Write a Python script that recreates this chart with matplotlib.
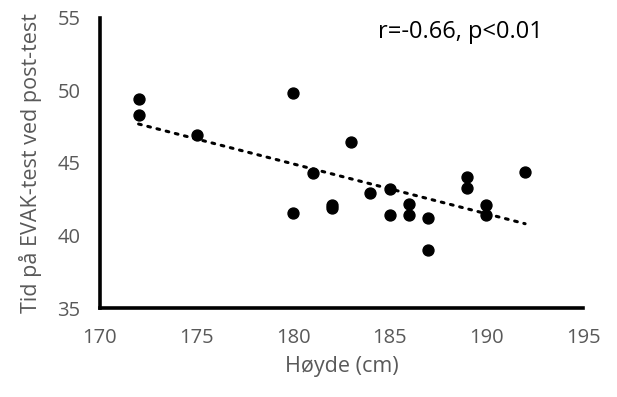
import numpy as np
import matplotlib
matplotlib.use("Agg")
import matplotlib.pyplot as plt

plt.rcParams['font.family'] = ['Open Sans', 'DejaVu Sans']

# hoyde (cm) og tid paa EVAK-test ved post-test
hoyde = [172, 172, 175, 180, 180, 181, 182, 182, 183, 184, 185, 185,
         186, 186, 187, 187, 189, 189, 190, 190, 192]
tid = [49.4, 48.3, 46.9, 49.8, 41.55, 44.3, 42.1, 41.9, 46.45, 42.95, 43.2, 41.4,
       42.2, 41.4, 41.2, 39.0, 44.0, 43.25, 42.1, 41.4, 44.4]

xticks = [170, 175, 180, 185, 190, 195]
yticks = [35, 40, 45, 50, 55]

fig = plt.figure(figsize=(6.17, 3.97), dpi=100)
ax = fig.add_axes([0.162, 0.224, 0.783, 0.731])

ax.scatter(hoyde, tid, s=62, color='black', zorder=3)

# lineaer trendlinje
k, m = np.polyfit(hoyde, tid, 1)
xs = np.array([min(hoyde), max(hoyde)])
ax.plot(xs, k * xs + m, color='black', linewidth=2.2, linestyle=(0, (0.9, 2.2)),
        dash_capstyle='round', zorder=2)

ax.set_xlim(170, 195)
ax.set_ylim(35, 55)
ax.set_xticks(xticks)
ax.set_yticks(yticks)
ax.tick_params(length=0, labelsize=14.5, labelcolor='#595959')
ax.tick_params(axis='x', pad=14)
ax.tick_params(axis='y', pad=14)

for s in ['top', 'right']:
    ax.spines[s].set_visible(False)
for s in ['left', 'bottom']:
    ax.spines[s].set_linewidth(2.6)
    ax.spines[s].set_color('black')

ax.set_xlabel('Høyde (cm)', fontsize=15.5, color='#595959', labelpad=6)
ax.set_ylabel('Tid på EVAK-test ved post-test', fontsize=15.5, color='#595959', labelpad=11)

ax.text(184.4, 54.0, 'r=-0.66, p<0.01', fontsize=17, color='black', va='center')

fig.savefig('out.png', dpi=100)
